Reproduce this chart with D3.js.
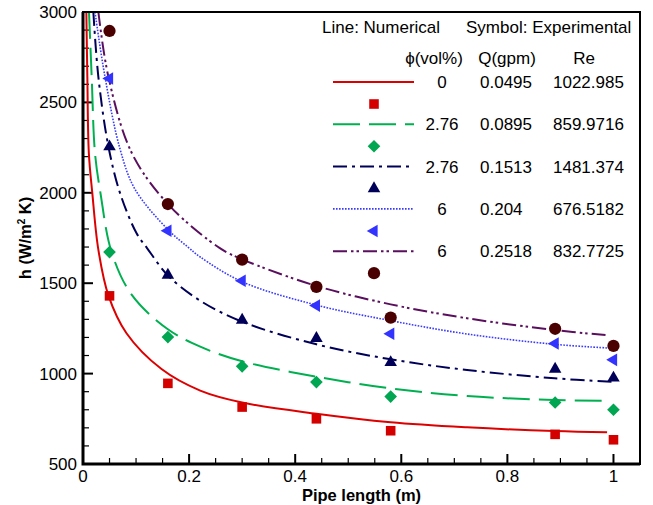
<!DOCTYPE html>
<html lang="en">
<head>
  <meta charset="utf-8" />
  <script src="https://d3js.org/d3.v7.min.js"></script>
  <style>
    body { margin: 0; background: #fff; }
    svg text { font-family: "Liberation Sans", Arial, sans-serif; fill: #000; }
    .tick-label { font-size: 17px; }
    .axis-title { font-size: 16.5px; font-weight: bold; }
    .legend-text { font-size: 17px; }
  </style>
</head>
<body>
  <div id="chart"></div>
  <script>
    const width = 653, height = 505;
    const margin = { top: 12, right: 13, bottom: 41, left: 83 };

    // experimental points (symbols)
    const xExp = [0.05, 0.16, 0.3, 0.44, 0.58, 0.89, 1.0];
    const expRed = [1430, 946, 815, 750, 684, 664, 634];
    const expGreen = [1672, 1202, 1040, 953, 873, 840, 800];
    const expNavy = [2255, 1545, 1296, 1195, 1062, 1025, 976];
    const expBlue = [2632, 1790, 1514, 1376, 1220, 1166, 1076];
    const expMaroon = [2895, 1938, 1630, 1480, 1310, 1248, 1153];

    // numerical curves, [x, h]
    const lineRed = [[0.0063, 3000], [0.0082, 2640], [0.011, 2220], [0.0176, 1997], [0.029, 1684], [0.048, 1431],
      [0.082, 1223], [0.148, 1025], [0.221, 906], [0.3, 840], [0.44, 778], [0.58, 731], [0.724, 703], [0.889, 682], [0.988, 675]];
    const lineGreen = [[0.0113, 3000], [0.0164, 2640], [0.0226, 2220], [0.033, 1997], [0.054, 1671], [0.092, 1435],
      [0.16, 1245], [0.221, 1149], [0.3, 1068], [0.44, 983], [0.58, 918], [0.724, 876], [0.889, 854], [0.988, 850]];
    const lineNavy = [[0.0195, 3000], [0.029, 2640], [0.048, 2255], [0.07, 1997], [0.101, 1776], [0.121, 1693],
      [0.161, 1540], [0.221, 1403], [0.3, 1287], [0.44, 1162], [0.58, 1079], [0.724, 1020], [0.889, 974], [1.0, 955]];
    const lineBlue = [[0.0226, 3000], [0.0415, 2640], [0.07, 2240], [0.098, 2020], [0.161, 1794], [0.199, 1697],
      [0.221, 1645], [0.3, 1508], [0.44, 1379], [0.58, 1293], [0.724, 1219], [0.889, 1162], [1.0, 1140]];
    const lineMaroon = [[0.029, 3000], [0.048, 2640], [0.092, 2220], [0.161, 1935], [0.258, 1694], [0.3, 1632],
      [0.44, 1485], [0.58, 1383], [0.724, 1306], [0.889, 1241], [0.985, 1213]];

    // legend table
    const legendPhi = ["0", "2.76", "2.76", "6", "6"];
    const legendQ = ["0.0495", "0.0895", "0.1513", "0.204", "0.2518"];
    const legendRe = ["1022.985", "859.9716", "1481.374", "676.5182", "832.7725"];

    const xTicks = [0, 0.2, 0.4, 0.6, 0.8, 1];
    const yTicks = [500, 1000, 1500, 2000, 2500, 3000];

    const series = [
      { line: lineRed, exp: expRed, color: "#dd0000", mcolor: "#d40000", dash: null, width: 2, symbol: "square" },
      { line: lineGreen, exp: expGreen, color: "#00b050", mcolor: "#00a651", dash: "27,9", width: 2, symbol: "diamond" },
      { line: lineNavy, exp: expNavy, color: "#000058", mcolor: "#000058", dash: "14,5,3,5", width: 2, symbol: "triangle" },
      { line: lineBlue, exp: expBlue, color: "#3a3aff", mcolor: "#3333ff", dash: "1.6,1.4", width: 1.6, symbol: "left" },
      { line: lineMaroon, exp: expMaroon, color: "#5a0f5e", mcolor: "#4a0000", dash: "14,4,2.5,3,2.5,4", width: 2, symbol: "circle" }
    ];

    const x = d3.scaleLinear().domain([0, 1.05]).range([margin.left, width - margin.right]);
    const y = d3.scaleLinear().domain([500, 3000]).range([height - margin.bottom, margin.top]);

    const svg = d3.select("#chart").append("svg")
      .attr("width", width).attr("height", height);

    svg.append("clipPath").attr("id", "plotClip")
      .append("rect")
      .attr("x", x(0)).attr("y", y(3000))
      .attr("width", x(1.05) - x(0)).attr("height", y(500) - y(3000));

    // ticks (inward)
    const xMinor = d3.range(0, 1.0001, 0.05);
    const yMinor = d3.range(500, 3001, 100);
    const isMajorX = d => xTicks.some(t => Math.abs(t - d) < 1e-6);
    const tickG = svg.append("g").attr("stroke", "#000");
    tickG.selectAll(".xt").data(xMinor).enter().append("line")
      .attr("x1", d => x(d)).attr("x2", d => x(d))
      .attr("y1", y(500))
      .attr("y2", d => y(500) - (isMajorX(d) ? 10 : 6))
      .attr("stroke-width", d => isMajorX(d) ? 2 : 1.2);
    tickG.selectAll(".yt").data(yMinor).enter().append("line")
      .attr("y1", d => y(d)).attr("y2", d => y(d))
      .attr("x1", x(0))
      .attr("x2", d => x(0) + (d % 500 === 0 ? 10 : 6))
      .attr("stroke-width", d => d % 500 === 0 ? 2 : 1.2);

    svg.selectAll(".xl").data(xTicks).enter().append("text")
      .attr("class", "tick-label")
      .attr("x", d => x(d)).attr("y", y(500) + 18)
      .attr("text-anchor", "middle")
      .text(d => d3.format("~g")(d));
    svg.selectAll(".yl").data(yTicks).enter().append("text")
      .attr("class", "tick-label")
      .attr("x", x(0) - 6).attr("y", d => y(d) + 6)
      .attr("text-anchor", "end")
      .text(d => d);

    // curves
    const line = d3.line()
      .x(d => x(d[0])).y(d => y(d[1]))
      .curve(d3.curveCatmullRom.alpha(0.5));
    const curves = svg.append("g").attr("clip-path", "url(#plotClip)");
    curves.selectAll("path").data(series).enter().append("path")
      .attr("d", d => line(d.line))
      .attr("fill", "none")
      .attr("stroke", d => d.color)
      .attr("stroke-width", d => d.width)
      .attr("stroke-dasharray", d => d.dash);

    function symbolPath(kind) {
      if (kind === "square") return d3.symbol(d3.symbolSquare, 92)();
      if (kind === "diamond") return d3.symbol(d3.symbolSquare, 80)();
      if (kind === "circle") return d3.symbol(d3.symbolCircle, 118)();
      return d3.symbol(d3.symbolTriangle, 68)();
    }
    function symbolRotate(kind) {
      if (kind === "diamond") return 45;
      if (kind === "left") return -90;
      return 0;
    }

    const marks = svg.append("g");
    series.forEach(s => {
      marks.selectAll(null).data(s.exp).enter().append("path")
        .attr("d", symbolPath(s.symbol))
        .attr("transform", (d, i) => `translate(${x(xExp[i])},${y(d)}) rotate(${symbolRotate(s.symbol)})`)
        .attr("fill", s.mcolor);
    });

    // frame
    svg.append("rect")
      .attr("x", x(0)).attr("y", y(3000))
      .attr("width", x(1.05) - x(0)).attr("height", y(500) - y(3000))
      .attr("fill", "none").attr("stroke", "#000").attr("stroke-width", 2);
    svg.append("path")
      .attr("d", `M${x(0)},${y(3000)}V${y(500)}H${x(1.05)}`)
      .attr("fill", "none").attr("stroke", "#000").attr("stroke-width", 3);

    // axis titles
    svg.append("text").attr("class", "axis-title")
      .attr("x", (x(0) + x(1.05)) / 2).attr("y", 501)
      .attr("text-anchor", "middle")
      .text("Pipe length (m)");
    const yt = svg.append("text").attr("class", "axis-title")
      .attr("transform", `translate(31,${(y(500) + y(3000)) / 2}) rotate(-90)`)
      .attr("text-anchor", "middle");
    yt.append("tspan").text("h (W/m");
    yt.append("tspan").attr("dy", -6).style("font-size", "10px").text("2");
    yt.append("tspan").attr("dy", 6).text(" K)");

    // legend
    const lg = svg.append("g").attr("class", "legend-text");
    lg.append("text").attr("x", 322).attr("y", 33).text("Line: Numerical");
    lg.append("text").attr("x", 466).attr("y", 33).text("Symbol: Experimental");
    lg.append("text").attr("x", 434).attr("y", 64).attr("text-anchor", "middle").text("\u03D5(vol%)");
    lg.append("text").attr("x", 507).attr("y", 64).attr("text-anchor", "middle").text("Q(gpm)");
    lg.append("text").attr("x", 584).attr("y", 64).attr("text-anchor", "middle").text("Re");

    const rowY = i => 82 + i * 42.3;
    series.forEach((s, i) => {
      lg.append("line")
        .attr("x1", 333).attr("x2", 414)
        .attr("y1", rowY(i)).attr("y2", rowY(i))
        .attr("stroke", s.color).attr("stroke-width", s.width)
        .attr("stroke-dasharray", s.dash);
      lg.append("path")
        .attr("d", symbolPath(s.symbol))
        .attr("transform", `translate(374,${rowY(i) + 22}) rotate(${symbolRotate(s.symbol)})`)
        .attr("fill", s.mcolor);
      lg.append("text").attr("x", 442).attr("y", rowY(i) + 6).attr("text-anchor", "middle").text(legendPhi[i]);
      lg.append("text").attr("x", 480).attr("y", rowY(i) + 6).text(legendQ[i]);
      lg.append("text").attr("x", 553).attr("y", rowY(i) + 6).text(legendRe[i]);
    });
  </script>
</body>
</html>
